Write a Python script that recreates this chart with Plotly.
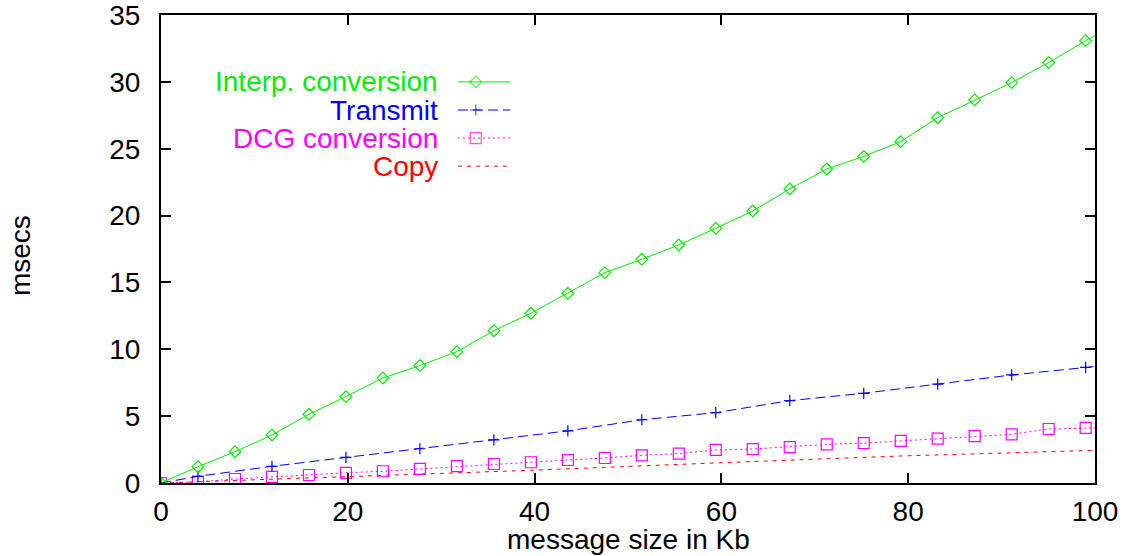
import plotly.graph_objects as go

# ---- data ----
x_sizes = [0, 3.96, 7.92, 11.88, 15.84, 19.8, 23.76, 27.72, 31.68, 35.64, 39.6, 43.56,
           47.52, 51.48, 55.44, 59.4, 63.36, 67.32, 71.28, 75.24, 79.2, 83.16, 87.12,
           91.08, 95.04, 99.0, 102.96]
interp_conv = [0, 1.22, 2.34, 3.59, 5.14, 6.46, 7.85, 8.78, 9.82, 11.39, 12.69, 14.19,
               15.73, 16.73, 17.80, 19.05, 20.34, 21.99, 23.48, 24.43, 25.53, 27.32, 28.65,
               29.94, 31.44, 33.08, 34.5]
dcg_conv = [0, 0.08, 0.3, 0.46, 0.6, 0.76, 0.88, 1.05, 1.26, 1.42, 1.55, 1.72, 1.87, 2.07,
            2.2, 2.47, 2.54, 2.69, 2.89, 2.98, 3.15, 3.32, 3.5, 3.64, 4.04, 4.12, 4.16]
x_transmit = [0, 3.96, 11.88, 19.8, 27.72, 35.64, 43.56, 51.48, 59.4, 67.32, 75.24, 83.16,
              91.08, 99.0, 106.92]
transmit = [0, 0.5, 1.25, 1.92, 2.56, 3.22, 3.9, 4.73, 5.26, 6.16, 6.71, 7.4, 8.08, 8.64, 9.3]
x_copy = [0, 19.8, 39.6, 59.4, 79.2, 99.0, 102.96]
copy_ = [0, 0.47, 0.95, 1.5, 2.02, 2.42, 2.5]

x_ticks = [0, 20, 40, 60, 80, 100]
y_ticks = [0, 5, 10, 15, 20, 25, 30, 35]

series_names = ["Interp. conversion", "Transmit", "DCG conversion", "Copy"]

GREEN = "#00ee00"
BLUE = "#0000ff"
MAGENTA = "#ff00ff"
RED = "#ff0000"
FONT = "Liberation Sans, Arial, Helvetica, sans-serif"
FS = 28

styles = [
    dict(color=GREEN, dash="solid", symbol="diamond-open", size=9),
    dict(color=BLUE, dash="10px,5px", symbol="cross-thin-open", size=8),
    dict(color=MAGENTA, dash="2px,3px", symbol="square-open", size=11),
    dict(color=RED, dash="4px,5px", symbol=None, size=0),
]
data = [(x_sizes, interp_conv), (x_transmit, transmit), (x_sizes, dcg_conv), (x_copy, copy_)]

fig = go.Figure()

# draw in reverse order so green is on top
for (xs, ys), st, name in reversed(list(zip(data, styles, series_names))):
    mode = "lines+markers" if st["symbol"] else "lines"
    kw = dict(line=dict(color=st["color"], width=1, dash=st["dash"]))
    if st["symbol"]:
        kw["marker"] = dict(symbol=st["symbol"], size=st["size"], color=st["color"],
                            line=dict(color=st["color"], width=1.2))
    fig.add_trace(go.Scatter(x=xs, y=ys, mode=mode, name=name, showlegend=False,
                             cliponaxis=True, **kw))

# ---- manual legend (text left of sample, gnuplot style) ----
leg_rows = [0.857, 0.797, 0.737, 0.677]
leg_x0, leg_xm, leg_x1 = 0.318, 0.337, 0.374
leg_text_x = 0.2987
for name, st, yy in zip(series_names, styles, leg_rows):
    kw = dict(line=dict(color=st["color"], width=1, dash=st["dash"]))
    if st["symbol"]:
        kw["marker"] = dict(symbol=st["symbol"], size=[0, st["size"], 0], color=st["color"],
                            line=dict(color=st["color"], width=1.2))
        mode = "lines+markers"
    else:
        mode = "lines"
    fig.add_trace(go.Scatter(x=[leg_x0, leg_xm, leg_x1], y=[yy, yy, yy], mode=mode,
                             xaxis="x2", yaxis="y2", showlegend=False, hoverinfo="skip", **kw))
    fig.add_annotation(x=leg_text_x, y=yy, xref="x2", yref="y2", text=name, showarrow=False,
                       xanchor="right", yanchor="middle",
                       font=dict(family=FONT, size=FS, color=st["color"]))

# axis titles as annotations
fig.add_annotation(x=0.5, y=-0.1215, xref="paper", yref="paper", text="message size in Kb",
                   showarrow=False, xanchor="center", yanchor="middle",
                   font=dict(family=FONT, size=FS, color="black"))
fig.add_annotation(x=-0.151, y=0.487, xref="paper", yref="paper", text="msecs", textangle=-90,
                   showarrow=False, xanchor="center", yanchor="middle",
                   font=dict(family=FONT, size=FS, color="black"))

axis_common = dict(showline=True, linecolor="black", linewidth=2, mirror="ticks",
                   ticks="inside", ticklen=10, tickwidth=1.5, tickcolor="black",
                   showgrid=False, zeroline=False, automargin=False,
                   ticklabeloverflow="allow",
                   tickfont=dict(family=FONT, size=FS, color="black"))

fig.update_layout(
    width=1123, height=556,
    margin=dict(l=161, r=28, t=15, b=73),
    paper_bgcolor="white", plot_bgcolor="white",
    xaxis=dict(range=[0, 100], tickvals=x_ticks, ticklabelstandoff=2, **axis_common),
    yaxis=dict(range=[0, 35], tickvals=y_ticks, ticklabelstandoff=13, **axis_common),
    xaxis2=dict(overlaying="x", range=[0, 1], visible=False),
    yaxis2=dict(overlaying="y", range=[0, 1], visible=False),
    showlegend=False,
)

# remove the page's default 8px body margin so the figure fills the window exactly
fig.write_html("out.html", config={"displayModeBar": False},
               post_script="document.body.style.margin='0';")
